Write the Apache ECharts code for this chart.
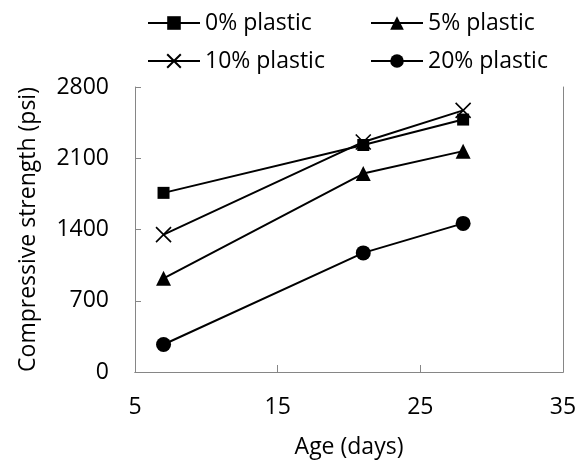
<!DOCTYPE html>
<html>
<head>
<meta charset="utf-8">
<script src="https://cdn.jsdelivr.net/npm/echarts@6/dist/echarts.min.js"></script>
<style>html,body{margin:0;padding:0;background:#fff}#c{width:576px;height:461px}</style>
</head>
<body>
<div id="c"></div>
<script>
const ages = [7, 21, 28];
const plastic0 = [1760, 2230, 2480];
const plastic5 = [920, 1950, 2170];
const plastic10 = [1350, 2260, 2570];
const plastic20 = [270, 1170, 1460];
const seriesNames = ['0% plastic', '5% plastic', '10% plastic', '20% plastic'];
const xTicks = [5, 15, 25, 35];
const yTicks = [0, 700, 1400, 2100, 2800];

const FONT = 'Open Sans';
const FS = 23;
const crossPath = 'path://M0,0L10,10M10,0L0,10';

function pairs(vals) { return ages.map((a, i) => [a, vals[i]]); }

function mkSeries(name, vals, symbol, size, extra) {
  return Object.assign({
    name: name,
    type: 'line',
    data: pairs(vals),
    symbol: symbol,
    symbolSize: size,
    lineStyle: { color: '#000', width: 2 },
    itemStyle: { color: '#000' },
    animation: false,
    z: 3
  }, extra || {});
}

const chart = echarts.init(document.getElementById('c'), null, { renderer: 'canvas' });

function legendAt(name, left, top) {
  return {
    data: [name],
    left: left,
    top: top,
    itemWidth: 52,
    itemHeight: 17,
    itemGap: 0,
    padding: 0,
    lineStyle: { width: 2, color: '#000' },
    textStyle: { fontFamily: FONT, fontSize: FS, color: '#000', lineHeight: 26 },
    selectedMode: false
  };
}

chart.setOption({
  backgroundColor: '#fff',
  animation: false,
  textStyle: { fontFamily: FONT },
  grid: { left: 135, right: 13, top: 87, bottom: 89, containLabel: false, outerBoundsMode: 'none' },
  legend: [
    legendAt(seriesNames[0], 147, 10),
    legendAt(seriesNames[1], 370, 10),
    legendAt(seriesNames[2], 147, 48),
    legendAt(seriesNames[3], 370, 48)
  ],
  xAxis: [{
    type: 'value',
    min: xTicks[0],
    max: xTicks[xTicks.length - 1],
    interval: 10,
    name: 'Age (days)',
    nameLocation: 'middle',
    nameGap: 64,
    nameTextStyle: { fontFamily: FONT, fontSize: FS, color: '#000' },
    axisLine: { show: true, lineStyle: { color: '#868686', width: 1 } },
    axisTick: { show: true, inside: true, length: 7, lineStyle: { color: '#868686' } },
    axisLabel: { fontFamily: FONT, fontSize: FS, color: '#000', margin: 24 },
    splitLine: { show: false }
  }, {
    type: 'value',
    position: 'top',
    min: xTicks[0],
    max: xTicks[xTicks.length - 1],
    interval: 10,
    axisLine: { show: true, lineStyle: { color: '#868686', width: 1 } },
    axisTick: { show: false },
    axisLabel: { show: false },
    splitLine: { show: false }
  }],
  yAxis: [{
    type: 'value',
    min: yTicks[0],
    max: yTicks[yTicks.length - 1],
    interval: 700,
    name: 'Compressive strength (psi)',
    nameLocation: 'middle',
    nameGap: 95,
    nameTextStyle: { fontFamily: FONT, fontSize: FS, color: '#000' },
    axisLine: { show: true, lineStyle: { color: '#868686', width: 1 } },
    axisTick: { show: true, inside: true, length: 6, lineStyle: { color: '#868686' } },
    axisLabel: { fontFamily: FONT, fontSize: FS, color: '#000', margin: 26, formatter: v => String(v) },
    splitLine: { show: false }
  }, {
    type: 'value',
    position: 'right',
    min: yTicks[0],
    max: yTicks[yTicks.length - 1],
    interval: 700,
    axisLine: { show: true, lineStyle: { color: '#868686', width: 1 } },
    axisTick: { show: false },
    axisLabel: { show: false },
    splitLine: { show: false }
  }],
  series: [
    mkSeries(seriesNames[0], plastic0, 'rect', 12),
    mkSeries(seriesNames[1], plastic5, 'triangle', 15),
    mkSeries(seriesNames[2], plastic10, crossPath, 15, {
      itemStyle: { color: '#000', borderColor: '#000', borderWidth: 1.6 }
    }),
    mkSeries(seriesNames[3], plastic20, 'circle', 15)
  ]
});
</script>
</body>
</html>
